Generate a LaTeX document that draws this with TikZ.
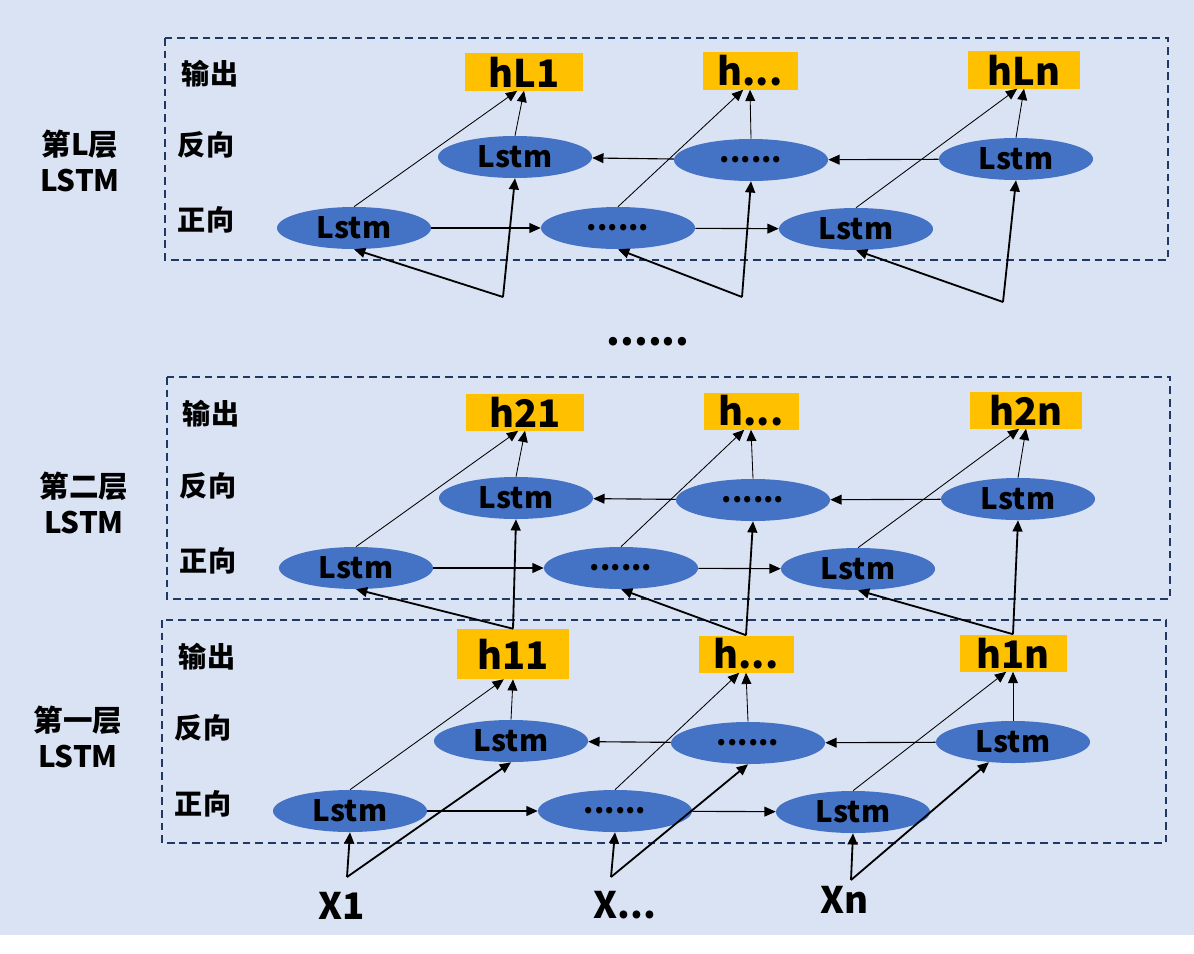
\documentclass[tikz,border=0pt]{standalone}
\usepackage{fontspec}
\setmainfont{Noto Sans CJK SC}
\usetikzlibrary{shapes.geometric,arrows.meta}
\definecolor{bgblue}{HTML}{DAE3F3}
\definecolor{cellblue}{HTML}{4472C4}
\definecolor{outyellow}{HTML}{FFC000}
\definecolor{boxnavy}{HTML}{203864}

\begin{document}
\begin{tikzpicture}[x=0.025cm,y=-0.025cm,
    cell/.style={ellipse,fill=cellblue,minimum width=3.85cm,minimum height=1.05cm,inner sep=0pt,font=\bfseries\fontsize{21}{21}\selectfont},
    outbox/.style={fill=outyellow,minimum height=0.925cm,inner sep=0pt,font=\bfseries\fontsize{27}{27}\selectfont},
    rowlabel/.style={inner sep=0pt,font=\bfseries\fontsize{20}{20}\selectfont},
    layerlabel/.style={align=center,inner sep=0pt,font=\bfseries\fontsize{21}{25}\selectfont},
    intext/.style={inner sep=0pt,font=\bfseries\fontsize{26}{26}\selectfont},
    layerbox/.style={draw=boxnavy,line width=1.3pt,dash pattern=on 5.5pt off 3.5pt},
    chain/.style={-{Triangle[length=8pt,width=7pt]},line width=0.8pt},
    toout/.style={-{Triangle[length=8pt,width=7pt]},line width=0.6pt},
    fromin/.style={-{Triangle[length=8pt,width=7pt]},line width=1.3pt}]
        \useasboundingbox (0,0) rectangle (1194,953);
        \fill[bgblue] (0,0) rectangle (1194,935);

        \draw[layerbox] (165,38) rectangle (1168,260);
        \draw[layerbox] (167,377) rectangle (1170,599);
        \draw[layerbox] (162,620) rectangle (1166,843);

        \node[layerlabel] (layerL) at (80,161) {第L层\\LSTM};
        \node[layerlabel] (layer2) at (84,503) {第二层\\LSTM};
        \node[layerlabel] (layer1) at (78,737) {第一层\\LSTM};

        \node[rowlabel] (outL) at (210,74) {输出};
        \node[rowlabel] (backL) at (206,145) {反向};
        \node[rowlabel] (fwdL) at (206,220) {正向};
        \node[rowlabel] (out2) at (211,414) {输出};
        \node[rowlabel] (back2) at (208,486) {反向};
        \node[rowlabel] (fwd2) at (208,561) {正向};
        \node[rowlabel] (out1) at (207,657) {输出};
        \node[rowlabel] (back1) at (203,728) {反向};
        \node[rowlabel] (fwd1) at (203,804) {正向};

        \node[outbox,minimum width=2.95cm] (oL1) at (524,72) {hL1};
        \node[outbox,minimum width=2.375cm] (oL2) at (750,71) {h...};
        \node[outbox,minimum width=2.8cm] (oL3) at (1024,70) {hLn};
        \node[outbox,minimum width=2.95cm] (o21) at (525,412) {h21};
        \node[outbox,minimum width=2.375cm] (o22) at (751,411) {h...};
        \node[outbox,minimum width=2.8cm] (o23) at (1026,410) {h2n};
        \node[outbox,minimum width=2.8cm,minimum height=1.25cm] (o11) at (513,654) {h11};
        \node[outbox,minimum width=2.375cm] (o12) at (746,654) {h...};
        \node[outbox,minimum width=2.675cm] (o13) at (1013,653) {h1n};

        \node[cell] (bL1) at (515,157) {Lstm};
        \node[cell] (bL2) at (751,160) {......};
        \node[cell] (bL3) at (1016,159) {Lstm};
        \node[cell] (fL1) at (354,228) {Lstm};
        \node[cell] (fL2) at (618,228) {......};
        \node[cell] (fL3) at (856,229) {Lstm};

        \node[cell] (b21) at (516,498) {Lstm};
        \node[cell] (b22) at (753,500) {......};
        \node[cell] (b23) at (1018,499) {Lstm};
        \node[cell] (f21) at (356,568) {Lstm};
        \node[cell] (f22) at (621,568) {......};
        \node[cell] (f23) at (858,569) {Lstm};

        \node[cell] (b11) at (511,741) {Lstm};
        \node[cell] (b12) at (748,743) {......};
        \node[cell] (b13) at (1013,742) {Lstm};
        \node[cell] (f11) at (350,811) {Lstm};
        \node[cell] (f12) at (615,811) {......};
        \node[cell] (f13) at (853,812) {Lstm};

        \node[inner sep=0pt,font=\bfseries\fontsize{28}{28}\selectfont] (gap) at (648,342) {......};

        \coordinate (inL1) at (503,297);
        \coordinate (inL2) at (742,297);
        \coordinate (inL3) at (1003,302);
        \coordinate (x1) at (347,877);
        \coordinate (x2) at (611,877);
        \coordinate (x3) at (851,880);
        \node[intext] (X1) at (342,906) {X1};
        \node[intext] (X2) at (625,905) {X...};
        \node[intext] (X3) at (845,900) {Xn};

        \draw[chain] (fL1) -- (fL2);
        \draw[chain] (fL2) -- (fL3);
        \draw[chain] (bL3) -- (bL2);
        \draw[chain] (bL2) -- (bL1);
        \draw[toout] (fL1.north) -- (oL1.-110);
        \draw[toout] (bL1.north) -- (oL1.south);
        \draw[toout] (fL2.north) -- (oL2.-110);
        \draw[toout] (bL2.north) -- (oL2.south);
        \draw[toout] (fL3.north) -- (oL3.-110);
        \draw[toout] (bL3.north) -- (oL3.south);
        \draw[fromin] (inL1) -- (fL1.south);
        \draw[fromin] (inL1) -- (bL1.south);
        \draw[fromin] (inL2) -- (fL2.south);
        \draw[fromin] (inL2) -- (bL2.south);
        \draw[fromin] (inL3) -- (fL3.south);
        \draw[fromin] (inL3) -- (bL3.south);

        \draw[chain] (f21) -- (f22);
        \draw[chain] (f22) -- (f23);
        \draw[chain] (b23) -- (b22);
        \draw[chain] (b22) -- (b21);
        \draw[toout] (f21.north) -- (o21.-110);
        \draw[toout] (b21.north) -- (o21.south);
        \draw[toout] (f22.north) -- (o22.-110);
        \draw[toout] (b22.north) -- (o22.south);
        \draw[toout] (f23.north) -- (o23.-110);
        \draw[toout] (b23.north) -- (o23.south);
        \draw[fromin] (o11.north) -- (f21.south);
        \draw[fromin] (o11.north) -- (b21.south);
        \draw[fromin] (o12.north) -- (f22.south);
        \draw[fromin] (o12.north) -- (b22.south);
        \draw[fromin] (o13.north) -- (f23.south);
        \draw[fromin] (o13.north) -- (b23.south);

        \draw[chain] (f11) -- (f12);
        \draw[chain] (f12) -- (f13);
        \draw[chain] (b13) -- (b12);
        \draw[chain] (b12) -- (b11);
        \draw[toout] (f11.north) -- (o11.-110);
        \draw[toout] (b11.north) -- (o11.south);
        \draw[toout] (f12.north) -- (o12.-110);
        \draw[toout] (b12.north) -- (o12.south);
        \draw[toout] (f13.north) -- (o13.-110);
        \draw[toout] (b13.north) -- (o13.south);
        \draw[fromin] (x1) -- (f11.south);
        \draw[fromin] (x1) -- (b11.south);
        \draw[fromin] (x2) -- (f12.south);
        \draw[fromin] (x2) -- (b12.south);
        \draw[fromin] (x3) -- (f13.south);
        \draw[fromin] (x3) -- (b13.-140);
    \end{tikzpicture}
\end{document}
